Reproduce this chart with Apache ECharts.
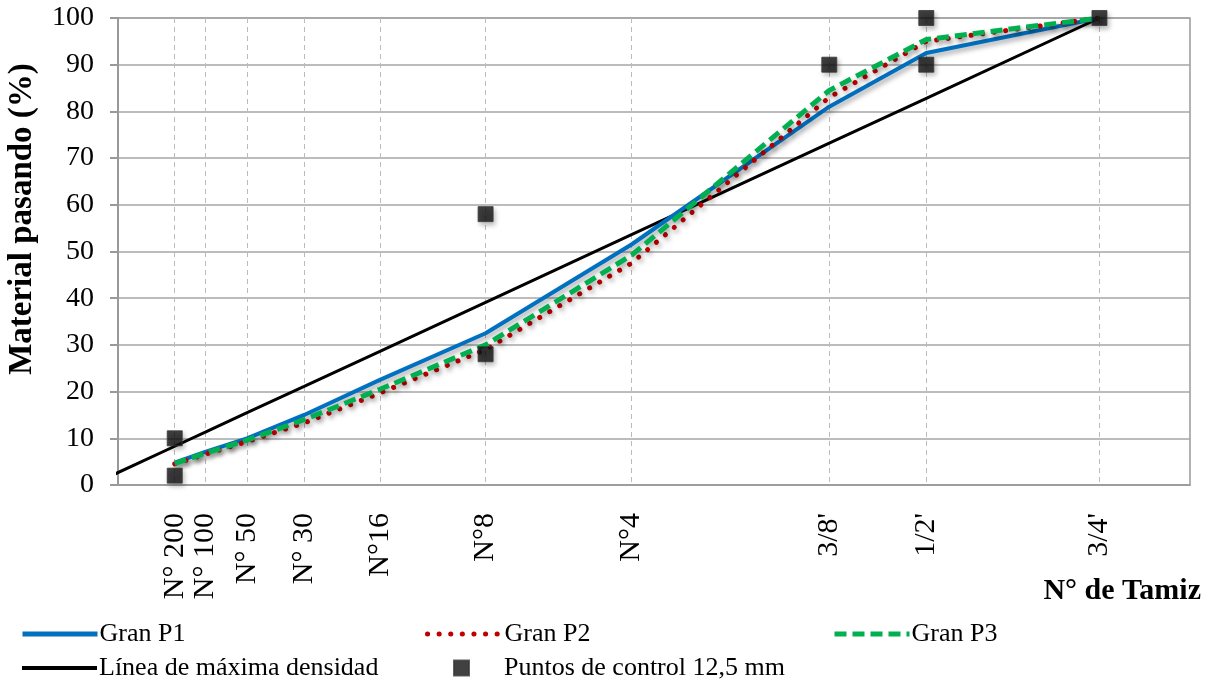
<!DOCTYPE html>
<html>
<head>
<meta charset="utf-8">
<script src="https://cdn.jsdelivr.net/npm/echarts@6/dist/echarts.min.js"></script>
<style>
  html, body { margin: 0; padding: 0; background: #fff; }
  #chart { width: 1209px; height: 683px; }
</style>
</head>
<body>
<div id="chart"></div>
<script>
// sieves and their openings (mm); x axis is opening^0.45
const sieveNames = ["N° 200", "N° 100", "N° 50", "N° 30", "N°16", "N°8", "N°4", "3/8'", "1/2'", "3/4'"];
const sieveMm = [0.075, 0.15, 0.3, 0.6, 1.18, 2.36, 4.75, 9.5, 12.5, 19];

const granP1 = [4.8, 7.1, 10, 15, 22.5, 32.5, 51.5, 81, 92.5, 100];
const granP2 = [4.5, 6.6, 9.3, 13.3, 19.7, 29, 47.5, 83, 95, 100];
const granP3 = [4.6, 6.8, 9.6, 14, 20.5, 30, 49.2, 84.5, 95.4, 100];
const maxDensity = [8.3, 11.3, 15.5, 21.1, 28.6, 39.1, 53.6, 73.2, 82.8, 100];

// control points: [sieve index, % passing]
const controlPts = [[0, 2], [0, 10], [5, 28], [5, 58], [7, 90], [8, 90], [8, 100], [9, 100]];

const xPos = sieveMm.map(function (d) { return Math.pow(d, 0.45); });

function pairs(vals) {
    return vals.map(function (v, i) { return [xPos[i], v]; });
}

const chartDom = document.getElementById('chart');
const chart = echarts.init(chartDom);

const font = 'Liberation Serif';
const shadow = { shadowBlur: 5, shadowColor: 'rgba(0,0,0,0.35)', shadowOffsetX: 2, shadowOffsetY: 3 };
const legendText = { fontFamily: font, fontSize: 26, color: '#000', padding: [0, 0, 0, -3] };
const hideSym = { opacity: 0 };

// one legend per entry so each sits at its own column
function lineLegend(name, left, top, width) {
    return {
        left: left, top: top, padding: 0,
        itemWidth: 75, itemHeight: 14,
        textStyle: legendText,
        data: [{ name: name, itemStyle: hideSym, lineStyle: { width: width } }]
    };
}

const option = {
    animation: false,
    textStyle: { fontFamily: font, color: '#000' },
    grid: {
        left: 118, right: 19, top: 18, bottom: 198,
        show: true, borderColor: '#999', borderWidth: 1.5
    },
    xAxis: {
        type: 'value', min: 0.1, max: 4.1,
        axisLine: { show: true, onZero: false, lineStyle: { color: '#999', width: 1.5 } },
        axisTick: { show: false, customValues: xPos },
        axisLabel: {
            customValues: xPos,
            rotate: 90, margin: 28,
            fontFamily: font, fontSize: 30, color: '#000',
            formatter: function (v) {
                for (let i = 0; i < xPos.length; i++) {
                    if (Math.abs(xPos[i] - v) < 1e-6) return sieveNames[i];
                }
                return '';
            }
        },
        splitLine: { show: true, lineStyle: { color: '#bbb', type: [5, 4], width: 1 } }
    },
    yAxis: {
        type: 'value', min: 0, max: 100, interval: 10,
        axisLine: { show: true, lineStyle: { color: '#999', width: 2 } },
        axisTick: { show: true, inside: false, length: 8, lineStyle: { color: '#999', width: 2 } },
        axisLabel: { margin: 24, fontFamily: font, fontSize: 28, color: '#000' },
        splitLine: { show: true, lineStyle: { color: '#a6a6a6', width: 1.5 } }
    },
    legend: [
        lineLegend('Gran P1', 20, 621, 5),
        lineLegend('Gran P2', 425, 621, 5),
        lineLegend('Gran P3', 832, 621, 5),
        lineLegend('Línea de máxima densidad', 20, 655, 4),
        {
            left: 453, top: 655, padding: 0,
            itemWidth: 15, itemHeight: 15,
            textStyle: { fontFamily: font, fontSize: 26, color: '#000', padding: [0, 0, 0, 30] },
            data: ['Puntos de control 12,5 mm']
        }
    ],
    graphic: [{
        type: 'text', x: 22, y: 219, rotation: Math.PI / 2,
        style: { text: 'Material pasando (%)', font: 'bold 33px "Liberation Serif"', fill: '#000', align: 'center', verticalAlign: 'middle' }
    }, {
        type: 'text', right: 8, top: 576,
        style: { text: 'N° de Tamiz', font: 'bold 30px "Liberation Serif"', fill: '#000' }
    }],
    series: [{
        name: 'Gran P1', type: 'line', symbol: 'none', z: 3,
        lineStyle: Object.assign({ color: '#0070c0', width: 4 }, shadow),
        itemStyle: { color: '#0070c0' },
        data: pairs(granP1)
    }, {
        name: 'Gran P2', type: 'line', symbol: 'none', z: 4,
        lineStyle: Object.assign({ color: '#c00000', width: 5, type: [0.1, 11.5], cap: 'round' }, shadow),
        itemStyle: { color: '#c00000' },
        data: pairs(granP2)
    }, {
        name: 'Gran P3', type: 'line', symbol: 'none', z: 5,
        lineStyle: Object.assign({ color: '#00b050', width: 5, type: [12, 6] }, shadow),
        itemStyle: { color: '#00b050' },
        data: pairs(granP3)
    }, {
        name: 'Línea de máxima densidad', type: 'line', symbol: 'none', z: 2,
        lineStyle: { color: '#000', width: 3 },
        itemStyle: { color: '#000' },
        data: [[0, 0]].concat(pairs(maxDensity))
    }, {
        name: 'Puntos de control 12,5 mm', type: 'scatter', symbol: 'rect', symbolSize: 15, z: 6,
        itemStyle: Object.assign({ color: '#111', borderColor: '#3a3a3a', borderWidth: 1 }, shadow),
        data: controlPts.map(function (p) { return [xPos[p[0]], p[1]]; })
    }]
};

chart.setOption(option);
</script>
</body>
</html>
